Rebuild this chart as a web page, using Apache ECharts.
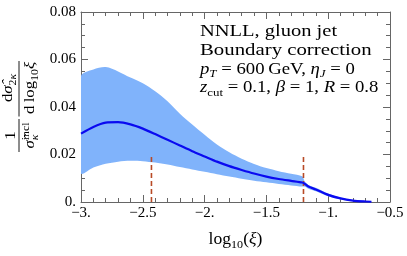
<!DOCTYPE html>
<html><head><meta charset="utf-8">
<script src="https://cdn.jsdelivr.net/npm/echarts@6/dist/echarts.min.js"></script>
<style>html,body{margin:0;padding:0;background:#fff}#c{width:407px;height:256px}</style>
</head><body><div id="c"></div>
<script>
// ---- data ----
const xs     = [-3.0,-2.9,-2.8,-2.7,-2.6,-2.5,-2.4,-2.3,-2.2,-2.1,-2.0,-1.9,-1.8,-1.7,-1.6,-1.5,-1.4,-1.3,-1.21,-1.19,-1.16,-1.1,-1.0,-0.9,-0.8,-0.7,-0.65];
const center = [0.0288,0.0316,0.0334,0.0336,0.0327,0.0309,0.0286,0.0262,0.0238,0.0214,0.0192,0.0170,0.0151,0.0135,0.0120,0.0107,0.0097,0.0089,0.0082,0.0077,0.0065,0.0053,0.0030,0.0015,0.0006,0.0002,0.0001];
const upper  = [0.0530,0.0558,0.0568,0.0550,0.0524,0.0500,0.0466,0.0424,0.0372,0.0326,0.0283,0.0242,0.0209,0.0182,0.0160,0.0143,0.0130,0.0119,0.0108,0.0086,0.0072,0.0060,0.0036,0.0019,0.0008,0.0003,0.0001];
const lower  = [0.0121,0.0145,0.0161,0.0170,0.0174,0.0172,0.0166,0.0158,0.0147,0.0137,0.0127,0.0117,0.0107,0.0098,0.0090,0.0083,0.0076,0.0070,0.0065,0.0065,0.0056,0.0045,0.0024,0.0011,0.0004,0.0001,0.0000];
const dashX  = [-2.43, -1.2];
const dashTop = 0.02;
const xTickLabels = ['\u22123.', '\u22122.5', '\u22122.', '\u22121.5', '\u22121.', '\u22120.5'];
const yTickLabels = ['0.', '0.02', '0.04', '0.06', '0.08'];

// ---- text helpers ----
const FONT = '"Liberation Serif", "Times New Roman", serif';
const mctx = document.createElement('canvas').getContext('2d');
function fnt(s, i){ return (i ? 'italic ' : '') + s + 'px ' + FONT; }
function mw(t, s, i){ mctx.font = fnt(s, i); return mctx.measureText(t).width; }
function run(segs, x, base, sx, align){
  let w = 0, held = 0;
  const items = [];
  segs.forEach(g => {
    const gw = mw(g.t, g.s, g.i) * sx;
    items.push({g, off: w});
    if (g.hold) { held = gw; }
    else { w += Math.max(gw, held); held = 0; }
  });
  const x0 = align === 'center' ? x - w / 2 : x;
  return items.map(({g, off}) => ({
    type: 'text', x: x0 + off, y: base + (g.dy || 0) - 0.3375 * g.s, scaleX: sx, silent: true,
    style: {text: g.t, font: fnt(g.s, g.i), fill: '#000', align: 'left', verticalAlign: 'middle',
            textAlign: 'left', textVerticalAlign: 'middle'}
  }));
}

const chart = echarts.init(document.getElementById('c'), null, {renderer: 'canvas'});

// annotation
const A = 16, As = 11;
let gfx = [];
gfx = gfx.concat(run([{t:'NNLL, gluon jet', s:A}], 200, 37.5, 1.28));
gfx = gfx.concat(run([{t:'Boundary correction', s:A}], 200, 56, 1.3));
gfx = gfx.concat(run([{t:'p', s:A, i:1}, {t:'T', s:As, i:1, dy:3}, {t:' = 600\u2009GeV, ', s:A},
                      {t:'\u03b7', s:A, i:1}, {t:'J', s:As, i:1, dy:3}, {t:' = 0', s:A}], 200, 75, 1.17));
gfx = gfx.concat(run([{t:'z', s:A, i:1}, {t:'cut', s:As, dy:3}, {t:' = 0.1, ', s:A},
                      {t:'\u03b2', s:A, i:1}, {t:' = 1, ', s:A}, {t:'R', s:A, i:1}, {t:' = 0.8', s:A}], 200, 93.5, 1.17));
// x-axis title
gfx = gfx.concat(run([{t:'log', s:16}, {t:'10', s:11, dy:4}, {t:'(', s:16}, {t:'\u03be', s:16, i:1}, {t:')', s:16}], 235.5, 245, 1.1, 'center'));

// y-axis title (rotated group)
const L = 15, Ls = 10.5, LX = 1.12;
let yl = [];
yl.push({type:'line', shape:{x1:0, y1:0, x2:33, y2:0}, style:{stroke:'#000', lineWidth:0.9}});
yl.push({type:'line', shape:{x1:35.5, y1:0, x2:91, y2:0}, style:{stroke:'#000', lineWidth:0.9}});
yl = yl.concat(run([{t:'1', s:L}], 16.5, -2.5, LX, 'center'));
yl = yl.concat(run([{t:'\u03c3\u0302', s:L, i:1}, {t:'\u03ba', s:Ls, i:1, dy:3.5, hold:1}, {t:'incl', s:Ls, dy:-6}], 16.5, 16.5, LX, 'center'));
yl = yl.concat(run([{t:'d', s:L}, {t:'\u03c3\u0302', s:L, i:1}, {t:'2', s:Ls, dy:3.5}, {t:'\u03ba', s:Ls, i:1, dy:3.5}], 64, -6, LX, 'center'));
yl = yl.concat(run([{t:'d\u2009log', s:L}, {t:'10', s:Ls, dy:3.5}, {t:'\u03be', s:L, i:1}], 64, 16.5, LX, 'center'));
gfx.push({type:'group', x:19, y:152, rotation:Math.PI/2, children:yl, silent:true});

const axisCol = '#666';
function xAx(pos, lab){
  return {type:'value', position:pos, min:-3, max:-0.5, interval:0.5,
    axisLine:{show:true, onZero:false, lineStyle:{color:axisCol, width:1}},
    axisTick:{show:true, inside:true, length:7, lineStyle:{color:axisCol}},
    minorTick:{show:true, splitNumber:5, length:4, lineStyle:{color:axisCol}},
    splitLine:{show:false}, minorSplitLine:{show:false},
    axisLabel:{show:lab, margin:4, color:'#000', fontFamily:FONT, fontSize:15,
      formatter: v => xTickLabels[Math.round((v + 3) / 0.5)]}};
}
function yAx(pos, lab){
  return {type:'value', position:pos, min:0, max:0.08, interval:0.02,
    axisLine:{show:true, onZero:false, lineStyle:{color:axisCol, width:1}},
    axisTick:{show:true, inside:true, length:7, lineStyle:{color:axisCol}},
    minorTick:{show:true, splitNumber:4, length:4, lineStyle:{color:axisCol}},
    splitLine:{show:false}, minorSplitLine:{show:false},
    axisLabel:{show:lab, margin:5, color:'#000', fontFamily:FONT, fontSize:15,
      formatter: v => yTickLabels[Math.round(v / 0.02)]}};
}

const series = [
  {type:'custom', xAxisIndex:0, yAxisIndex:0, z:1, silent:true, clip:true,
   data: xs.map((x, i) => [x, center[i]]),
   renderItem: (params, api) => {
     if (params.dataIndex !== 0) return null;
     const pts = [];
     for (let i = 0; i < xs.length; i++) pts.push(api.coord([xs[i], upper[i]]));
     for (let i = xs.length - 1; i >= 0; i--) pts.push(api.coord([xs[i], lower[i]]));
     return {type:'polygon', shape:{points:pts, smooth:0.3}, style:{fill:'#80b3fb', stroke:null}};
   }}
];
dashX.forEach(x => series.push({type:'line', xAxisIndex:0, yAxisIndex:0, z:3, silent:true, symbol:'none',
  data:[[x, 0], [x, dashTop]], lineStyle:{color:'#b84a26', width:1.6, type:[5, 3]}}));
series.push({type:'line', xAxisIndex:0, yAxisIndex:0, z:4, silent:true, symbol:'none', smooth:0.25,
  data: xs.map((x, i) => [x, center[i]]), lineStyle:{color:'#0a0af0', width:2.2}});

chart.setOption({
  animation:false,
  backgroundColor:'#fff',
  grid:{left:81, right:17, top:12, bottom:54, containLabel:false},
  xAxis:[xAx('bottom', true), xAx('top', false)],
  yAxis:[yAx('left', true), yAx('right', false)],
  series: series,
  graphic: gfx
});
</script></body></html>
